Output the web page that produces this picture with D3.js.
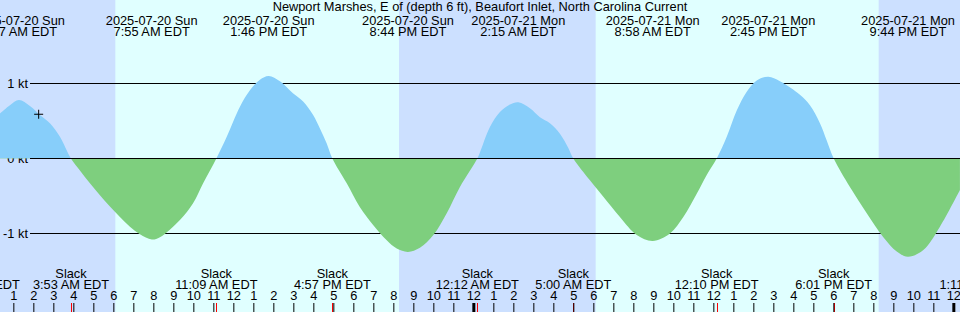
<!DOCTYPE html>
<html>
<head>
<meta charset="utf-8">
<script src="https://cdn.jsdelivr.net/npm/d3@7"></script>
<style>
  html, body { margin: 0; padding: 0; background: #fff; }
  svg { display: block; font-family: "Liberation Sans", Arial, sans-serif; font-size: 12.8px; }
</style>
</head>
<body>
<div id="chart"></div>
<script>
// Chart window and title
const title = "Newport Marshes, E of (depth 6 ft), Beaufort Inlet, North Carolina Current";
const windowStart = "2025-07-20 00:20";
const windowEnd = "2025-07-22 00:20";

// Current samples: hours after 2025-07-20 00:00 EDT, speed in knots (flood > 0)
const currentHours = [
  0.33, 0.83, 1.28, 1.83, 2.33, 2.83, 3.33, 3.88, 4.33, 4.83, 5.33, 5.83, 6.33, 6.83, 7.33, 7.92,
  8.33, 9.33, 9.98, 10.49, 11.15, 11.67, 12.33, 12.83, 13.33, 13.77, 14.33, 14.98, 15.49, 15.99,
  16.33, 16.67, 16.95, 17.67, 18.33, 19.0, 19.67, 20.17, 20.73, 21.33, 22.0, 22.67, 23.33, 24.2,
  24.33, 24.83, 25.33, 25.83, 26.25, 26.83, 27.33, 27.83, 28.33, 28.75, 29.0, 29.83, 30.5, 31.33,
  32.17, 32.97, 33.83, 34.5, 35.17, 35.67, 36.17, 36.67, 37.17, 37.67, 38.17, 38.75, 39.33, 40.33,
  40.83, 41.33, 41.67, 42.02, 42.83, 43.67, 44.5, 45.17, 45.73, 46.5, 47.33, 48.33
];
const currentKnots = [
  0.60, 0.71, 0.78, 0.70, 0.58, 0.47, 0.29, 0, -0.16, -0.33, -0.49, -0.64, -0.78, -0.91, -1.01, -1.08,
  -1.05, -0.82, -0.60, -0.33, 0, 0.29, 0.69, 0.91, 1.05, 1.10, 1.03, 0.87, 0.76, 0.58,
  0.40, 0.20, 0, -0.33, -0.65, -0.89, -1.09, -1.20, -1.245, -1.19, -1.02, -0.73, -0.38, 0,
  0.08, 0.42, 0.62, 0.72, 0.75, 0.67, 0.55, 0.47, 0.33, 0.14, 0, -0.29, -0.51, -0.78,
  -1.02, -1.10, -1.00, -0.78, -0.47, -0.22, 0, 0.29, 0.64, 0.89, 1.04, 1.09, 1.03, 0.85,
  0.71, 0.47, 0.24, 0, -0.38, -0.73, -1.05, -1.24, -1.31, -1.22, -0.91, -0.42
];

// Max flood / max ebb times (labelled at the top)
const maxTimes = [
  "2025-07-20 01:17", "2025-07-20 07:55", "2025-07-20 13:46", "2025-07-20 20:44",
  "2025-07-21 02:15", "2025-07-21 08:58", "2025-07-21 14:45", "2025-07-21 21:44"
];

// Slack water times (labelled at the bottom, red ticks)
const slackTimes = [
  "2025-07-19 23:15", "2025-07-20 03:53", "2025-07-20 11:09", "2025-07-20 16:57",
  "2025-07-21 00:12", "2025-07-21 05:00", "2025-07-21 12:10", "2025-07-21 18:01",
  "2025-07-22 01:11"
];

// Sunrise / sunset pairs (daylight bands)
const sunrises = ["2025-07-20 06:06", "2025-07-21 06:07"];
const sunsets = ["2025-07-20 20:17", "2025-07-21 20:16"];

// Y gridlines
const gridKnots = [1, 0, -1];
const gridLabels = ["1 kt", "0 kt", "-1 kt"];

// Marker
const markTime = "2025-07-20 02:16";
const markKnots = 0.59;

const width = 960, height = 312;
const parse = d3.timeParse("%Y-%m-%d %H:%M");
const base = parse("2025-07-20 00:00");

const data = currentHours.map((h, i) => ({
  date: new Date(base.getTime() + h * 3600e3),
  v: currentKnots[i]
}));

const svg = d3.select("#chart").append("svg")
  .attr("width", width)
  .attr("height", height);

const x = d3.scaleTime()
  .domain([parse(windowStart), parse(windowEnd)])
  .range([0, width]);

const y = d3.scaleLinear()
  .domain([-1, 1])
  .range([233.5, 83.5]);

// Background: night everywhere, then daylight bands
svg.append("rect")
  .attr("width", width).attr("height", height)
  .attr("fill", "#cce0ff");

sunrises.forEach((s, i) => {
  svg.append("rect")
    .attr("x", x(parse(s)))
    .attr("y", 0)
    .attr("width", x(parse(sunsets[i])) - x(parse(s)))
    .attr("height", height)
    .attr("fill", "#e0ffff");
});

// Gridlines and labels
gridKnots.forEach((k, i) => {
  svg.append("line")
    .attr("x1", 30).attr("x2", width)
    .attr("y1", y(k)).attr("y2", y(k))
    .attr("stroke", "#000");
  svg.append("text")
    .attr("x", 28).attr("y", y(k))
    .attr("dy", "0.35em")
    .attr("text-anchor", "end")
    .text(gridLabels[i]);
});

// Clip regions above and below slack
const defs = svg.append("defs");
defs.append("clipPath").attr("id", "above")
  .append("rect").attr("x", 0).attr("y", 0).attr("width", width).attr("height", y(0));
defs.append("clipPath").attr("id", "below")
  .append("rect").attr("x", 0).attr("y", y(0)).attr("width", width).attr("height", height - y(0));

// Current area, blue for flood and green for ebb
const area = d3.area()
  .x(d => x(d.date))
  .y0(y(0))
  .y1(d => y(d.v))
  .curve(d3.curveCatmullRom.alpha(0.5));

svg.append("path").datum(data)
  .attr("clip-path", "url(#above)")
  .attr("fill", "#87cefa")
  .attr("d", area);
svg.append("path").datum(data)
  .attr("clip-path", "url(#below)")
  .attr("fill", "#7ecf7e")
  .attr("d", area);

// Zero line stays on top
svg.append("line")
  .attr("x1", 30).attr("x2", width)
  .attr("y1", y(0)).attr("y2", y(0))
  .attr("stroke", "#000");

// Marker cross
svg.append("path")
  .attr("transform", "translate(" + x(parse(markTime)) + "," + y(markKnots) + ")")
  .attr("d", "M-4.5,0H4.5M0,-4.5V4.5")
  .attr("stroke", "#000")
  .attr("fill", "none");

// Title
svg.append("text")
  .attr("x", width / 2).attr("y", 11)
  .attr("text-anchor", "middle")
  .text(title);

// Max current labels
const fmtDay = d3.timeFormat("%Y-%m-%d %a");
const fmtTime = d3.timeFormat("%-I:%M %p EDT");

maxTimes.forEach(t => {
  const d = parse(t);
  svg.append("text")
    .attr("x", x(d)).attr("y", 25)
    .attr("text-anchor", "middle")
    .text(fmtDay(d));
  svg.append("text")
    .attr("x", x(d)).attr("y", 36)
    .attr("text-anchor", "middle")
    .text(fmtTime(d));
});

// Slack labels
slackTimes.forEach(t => {
  const d = parse(t);
  svg.append("text")
    .attr("x", x(d)).attr("y", 278)
    .attr("text-anchor", "middle")
    .text("Slack");
  svg.append("text")
    .attr("x", x(d)).attr("y", 289)
    .attr("text-anchor", "middle")
    .text(fmtTime(d));
  svg.append("line")
    .attr("x1", Math.round(x(d)) + 0.5).attr("x2", Math.round(x(d)) + 0.5)
    .attr("y1", 303).attr("y2", height)
    .attr("stroke", "red");
});

// Hour axis
const axis = svg.append("g")
  .attr("transform", "translate(0," + height + ")")
  .call(d3.axisTop(x)
    .ticks(d3.timeHour.every(1))
    .tickFormat(d3.timeFormat("%-I"))
    .tickSize(9)
    .tickPadding(3));

axis.select(".domain").remove();
axis.selectAll("text")
  .attr("font-family", "Liberation Sans, Arial, sans-serif")
  .attr("font-size", 12.8)
  .attr("fill", "#000");
axis.selectAll("line")
  .attr("stroke", "#000")
  .attr("stroke-width", d => d.getHours() === 0 ? 3 : 1);
</script>
</body>
</html>
